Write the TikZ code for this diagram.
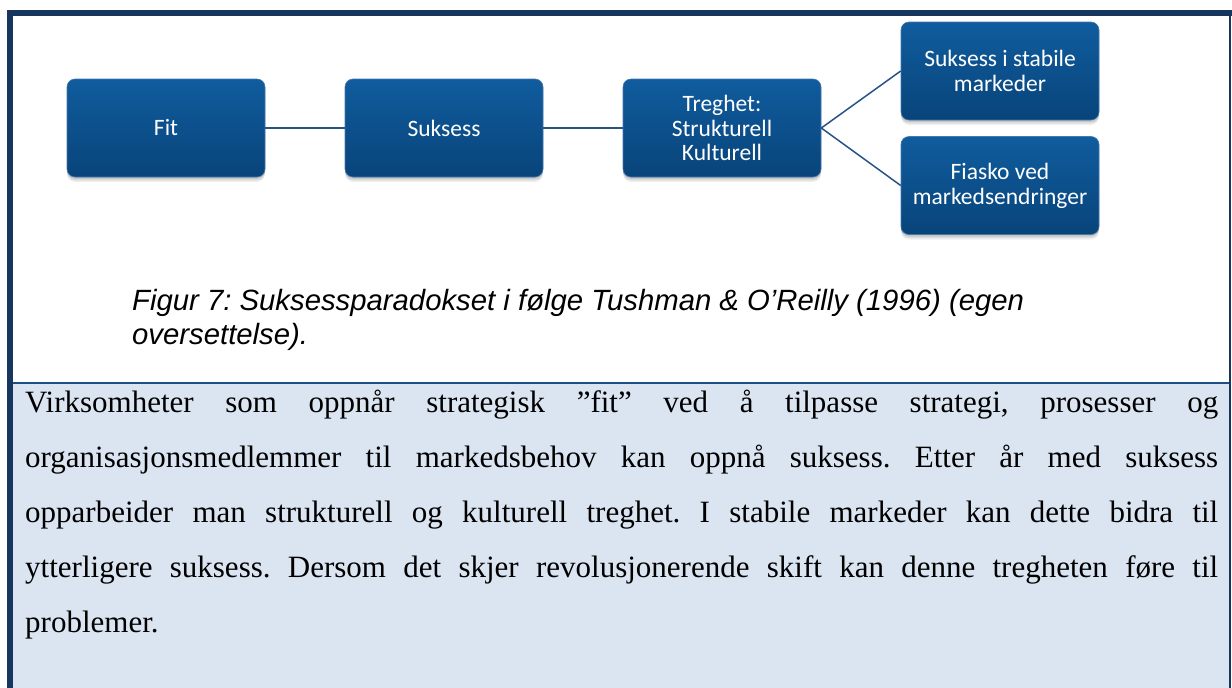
\documentclass[tikz,border=0pt]{standalone}
\usepackage{fontspec}
\newfontfamily\boxfont{Carlito}
\newfontfamily\capfont{Liberation Sans}
\newfontfamily\bodyfont{Liberation Serif}
\usetikzlibrary{shadows}
\definecolor{navy}{RGB}{23,54,93}
\definecolor{sepblue}{RGB}{31,78,133}
\definecolor{paleblue}{RGB}{219,229,241}
\definecolor{boxtop}{RGB}{16,92,158}
\definecolor{boxbot}{RGB}{8,68,122}
\definecolor{boxedge}{RGB}{70,120,175}
\definecolor{linkcol}{RGB}{38,84,134}
\begin{document}
\begin{tikzpicture}[x=1pt,y=-1pt,
  stepbox/.style={rectangle, rounded corners=8pt, minimum width=198pt, minimum height=98pt,
    inner sep=0pt, top color=boxtop, bottom color=boxbot, draw=boxedge, line width=0.6pt,
    text=white, align=center, font=\boxfont\fontsize{23.5}{24.8}\selectfont,
    drop shadow={shadow xshift=0pt, shadow yshift=-5pt, opacity=0.06, fill=black},
    drop shadow={shadow xshift=0pt, shadow yshift=-3.5pt, opacity=0.08, fill=black},
    drop shadow={shadow xshift=0pt, shadow yshift=-2pt, opacity=0.10, fill=black}},
  link/.style={draw=linkcol, line width=1.5pt},
  plain/.style={anchor=base west, inner sep=0pt}]
\useasboundingbox (0,0) rectangle (1232,688);
% panels and frame
\fill[white] (0,0) rectangle (1232,688);
\fill[paleblue] (13,383) rectangle (1230,688);
\fill[sepblue] (13,381.5) rectangle (1230,384);
\fill[navy] (7,10) rectangle (1232,16);
\fill[navy] (7,10) rectangle (13,688);
\fill[navy] (1229.3,10) rectangle (1231,688);
% boxes
\node[stepbox] (fit)   at (166,128)   {Fit};
\node[stepbox] (suk)   at (444,128)   {Suksess};
\node[stepbox] (treg)  at (722,128)   {Treghet:\\Strukturell\\Kulturell};
\node[stepbox] (stab)  at (1000,71)   {Suksess i stabile\\markeder};
\node[stepbox] (fiask) at (1000,185.5) {Fiasko ved\\markedsendringer};
% connectors
\draw[link] (fit.east) -- (suk.west);
\draw[link] (suk.east) -- (treg.west);
\draw[link] (treg.east) -- (stab.west);
\draw[link] (treg.east) -- (fiask.west);
% caption
\node[plain] (cap) at (132,310) {\parbox[t]{1080pt}{\capfont\itshape\fontsize{29.3}{34}\selectfont\frenchspacing\raggedright
Figur 7: Suksessparadokset i følge Tushman \& O’Reilly (1996) (egen\\oversettelse).}};
% body text
\node[plain] (body) at (25,412) {\parbox[t]{1193pt}{\bodyfont\fontsize{31}{55}\selectfont\frenchspacing\tolerance=10000
Virksomheter som oppnår strategisk ”fit” ved å tilpasse strategi, prosesser og\linebreak
organisasjonsmedlemmer til markedsbehov kan oppnå suksess. Etter år med suksess\linebreak
opparbeider man strukturell og kulturell treghet. I stabile markeder kan dette bidra til\linebreak
ytterligere suksess. Dersom det skjer revolusjonerende skift kan denne tregheten føre til\linebreak
problemer.}};
\end{tikzpicture}
\end{document}
